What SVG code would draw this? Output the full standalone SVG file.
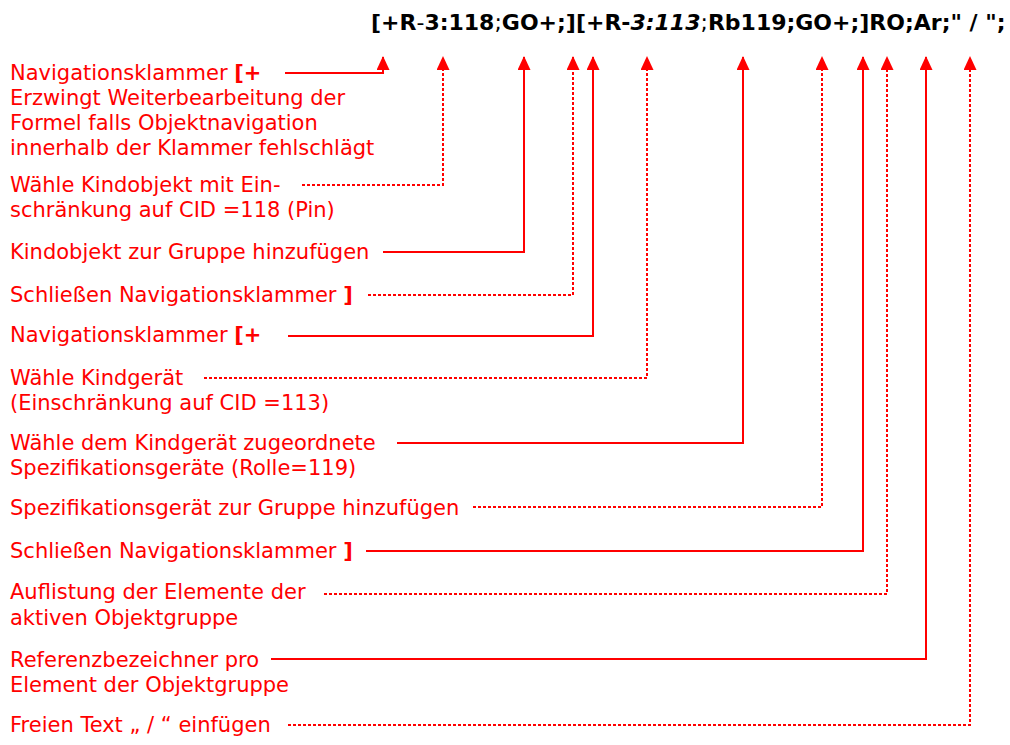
<svg xmlns="http://www.w3.org/2000/svg" width="1010" height="745" viewBox="0 0 1010 745">
<defs>
<marker id="ah" markerWidth="14" markerHeight="13" refX="13" refY="6.5" orient="auto" markerUnits="userSpaceOnUse" viewBox="0 0 14 13">
<path d="M0,0 L14,6.5 L0,13 Z" fill="#ff0000"/>
</marker>
<style>
.lbl{font-family:"DejaVu Sans",Verdana,sans-serif;font-size:21px;fill:#ff0000}
.b{font-weight:bold}
.f{font-family:"DejaVu Sans",Verdana,sans-serif;font-size:22px;font-weight:bold;fill:#000}
.n{font-weight:normal}
.s{fill:none;stroke:#ff0000;stroke-width:2}
.d{fill:none;stroke:#ff0000;stroke-width:2;stroke-dasharray:3,2}
</style>
</defs>
<rect width="1010" height="745" fill="#fff"/>
<g id="formula">
<text class="f" x="371" y="30">[+R<tspan class="n">-</tspan>3:118<tspan class="n">;</tspan>GO+;][+R-<tspan font-style="italic">3:113</tspan><tspan class="n">;</tspan>Rb119;GO+;]RO;Ar;" / ";</text>
</g>
<g id="connectors">
<path class="s" d="M285,73 H383 V57" marker-end="url(#ah)"/>
<path class="d" d="M302,185 H443 V57" marker-end="url(#ah)"/>
<path class="s" d="M383,252 H524 V57" marker-end="url(#ah)"/>
<path class="d" d="M368,295 H573 V57" marker-end="url(#ah)"/>
<path class="s" d="M288,336 H593 V57" marker-end="url(#ah)"/>
<path class="d" d="M204,378 H647 V57" marker-end="url(#ah)"/>
<path class="s" d="M397,443 H743 V57" marker-end="url(#ah)"/>
<path class="d" d="M473,507 H822 V57" marker-end="url(#ah)"/>
<path class="s" d="M366,551 H863 V57" marker-end="url(#ah)"/>
<path class="d" d="M324,594 H887 V57" marker-end="url(#ah)"/>
<path class="s" d="M271,659 H926 V57" marker-end="url(#ah)"/>
<path class="d" d="M288,725 H970 V57" marker-end="url(#ah)"/>
</g>
<g id="n1"><text class="lbl" x="10" y="80">Navigationsklammer <tspan class="b">[+</tspan></text>
<text class="lbl" x="10" y="105">Erzwingt Weiterbearbeitung der</text>
<text class="lbl" x="10" y="130">Formel falls Objektnavigation</text>
<text class="lbl" x="10" y="155">innerhalb der Klammer fehlschlägt</text></g>
<g id="n2"><text class="lbl" x="10" y="192">Wähle Kindobjekt mit Ein-</text>
<text class="lbl" x="10" y="217">schränkung auf CID =118 (Pin)</text></g>
<g id="n3"><text class="lbl" x="10" y="259">Kindobjekt zur Gruppe hinzufügen</text></g>
<g id="n4"><text class="lbl" x="10" y="302">Schließen Navigationsklammer <tspan class="b">]</tspan></text></g>
<g id="n5"><text class="lbl" x="10" y="342">Navigationsklammer <tspan class="b">[+</tspan></text></g>
<g id="n6"><text class="lbl" x="10" y="385">Wähle Kindgerät</text>
<text class="lbl" x="10" y="410">(Einschränkung auf CID =113)</text></g>
<g id="n7"><text class="lbl" x="10" y="450">Wähle dem Kindgerät zugeordnete</text>
<text class="lbl" x="10" y="475">Spezifikationsgeräte (Rolle=119)</text></g>
<g id="n8"><text class="lbl" x="10" y="515">Spezifikationsgerät zur Gruppe hinzufügen</text></g>
<g id="n9"><text class="lbl" x="10" y="558">Schließen Navigationsklammer <tspan class="b">]</tspan></text></g>
<g id="n10"><text class="lbl" x="10" y="599">Auflistung der Elemente der</text>
<text class="lbl" x="10" y="625">aktiven Objektgruppe</text></g>
<g id="n11"><text class="lbl" x="10" y="667">Referenzbezeichner pro</text>
<text class="lbl" x="10" y="692">Element der Objektgruppe</text></g>
<g id="n12"><text class="lbl" x="10" y="732">Freien Text „ / “ einfügen</text></g>
</svg>
